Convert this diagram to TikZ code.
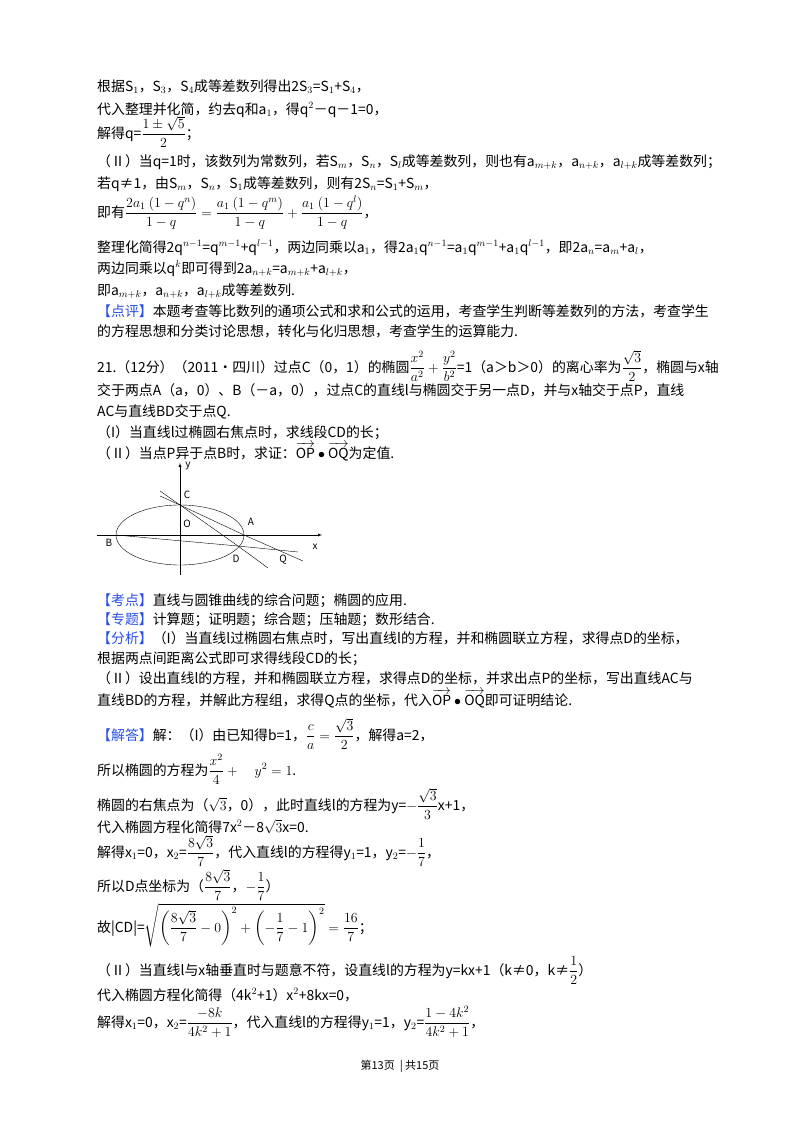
\RequirePackage{fix-cm}
\documentclass[tikz,border=0pt]{standalone}
\usepackage{fontspec}
\usepackage{amsmath}
\setmainfont{Noto Sans CJK SC}
\definecolor{kblue}{RGB}{40,80,230}
\newcommand\kd[1]{\textcolor{kblue}{【#1】}}
\newcommand\vv[1]{\overrightarrow{\mathrm{#1}}}
\begin{document}
\begin{tikzpicture}[x=1pt,y=-1pt,
  ln/.style={anchor=base west,inner sep=0pt,font=\fontsize{13.9}{15}\selectfont},
  lab/.style={inner sep=0pt,font=\fontsize{10}{12}\selectfont\itshape}]
\useasboundingbox[fill=white] (0,0) rectangle (800,1132);
\node[ln] (l1) at (97,91) {根据S$_1$，S$_3$，S$_4$成等差数列得出2S$_3$=S$_1$+S$_4$，};
\node[ln] (l2) at (97,114) {代入整理并化简，约去q和a$_1$，得q$^2$－q－1=0，};
\node[ln] (l3) at (97,138) {解得q=$\dfrac{1\pm\sqrt5}{2}$；};
\node[ln] (l4) at (97,166) {（Ⅱ）当q=1时，该数列为常数列，若S$_m$，S$_n$，S$_l$成等差数列，则也有a$_{m+k}$，a$_{n+k}$，a$_{l+k}$成等差数列；};
\node[ln] (l5) at (97,188) {若q≠1，由S$_m$，S$_n$，S$_1$成等差数列，则有2S$_n$=S$_1$+S$_m$，};
\node[ln] (l6) at (97,217) {即有$\dfrac{2a_1\ (1-q^n)}{1-q}=\dfrac{a_1\ (1-q^m)}{1-q}+\dfrac{a_1\ (1-q^l)}{1-q}$，};
\node[ln] (l7) at (97,252) {整理化简得2q$^{n-1}$=q$^{m-1}$+q$^{l-1}$，两边同乘以a$_1$，得2a$_1$q$^{n-1}$=a$_1$q$^{m-1}$+a$_1$q$^{l-1}$，即2a$_n$=a$_m$+a$_l$，};
\node[ln] (l8) at (97,273) {两边同乘以q$^k$即可得到2a$_{n+k}$=a$_{m+k}$+a$_{l+k}$，};
\node[ln] (l9) at (97,295) {即a$_{m+k}$，a$_{n+k}$，a$_{l+k}$成等差数列.};
\node[ln] (l10) at (97,316) {\kd{点评}本题考查等比数列的通项公式和求和公式的运用，考查学生判断等差数列的方法，考查学生};
\node[ln] (l11) at (97,336) {的方程思想和分类讨论思想，转化与化归思想，考查学生的运算能力.};
\node[ln] (l12) at (97,372) {21.（12分）（2011•四川）过点C（0，1）的椭圆$\dfrac{x^2}{a^2}+\dfrac{y^2}{b^2}$=1（a＞b＞0）的离心率为$\dfrac{\sqrt3}{2}$，椭圆与x轴};
\node[ln] (l13) at (97,395) {交于两点A（a，0）、B（－a，0），过点C的直线l与椭圆交于另一点D，并与x轴交于点P，直线};
\node[ln] (l14) at (97,416) {AC与直线BD交于点Q.};
\node[ln] (l15) at (97,437) {（I）当直线l过椭圆右焦点时，求线段CD的长；};
\node[ln] (l16) at (97,458) {（Ⅱ）当点P异于点B时，求证：$\vv{OP}\bullet\vv{OQ}$为定值.};
% diagram
\coordinate (O) at (180,535);
\coordinate (A) at (244,535);
\coordinate (B) at (116,535);
\coordinate (C) at (180,505);
\coordinate (D) at (238,546);
\draw[-latex] (97,535) -- (322,535) coordinate (xe);
\draw[-latex] (180,575) -- (180,463) coordinate (ye);
\draw (O) ellipse [x radius=64, y radius=30];
\draw (160,496) -- (C) -- (A) -- (303,561) coordinate (ACe);
\draw (160,491) -- (C) -- (D) -- (268,568) coordinate (CDe);
\draw (B) -- (D) -- (298,552) coordinate (BDe);
\node[lab] (ly) at (188,466) {y};
\node[lab] (lx) at (315,547) {x};
\node[lab] (lC) at (187,495) {C};
\node[lab] (lO) at (187,524) {O};
\node[lab] (lA) at (251,522) {A};
\node[lab] (lB) at (109,543) {B};
\node[lab] (lD) at (236,559) {D};
\node[lab] (lQ) at (283,560) {Q};
%
\node[ln] (l17) at (97,605) {\kd{考点}直线与圆锥曲线的综合问题；椭圆的应用.};
\node[ln] (l18) at (97,624) {\kd{专题}计算题；证明题；综合题；压轴题；数形结合.};
\node[ln] (l19) at (97,643) {\kd{分析}（I）当直线l过椭圆右焦点时，写出直线l的方程，并和椭圆联立方程，求得点D的坐标，};
\node[ln] (l20) at (97,663) {根据两点间距离公式即可求得线段CD的长；};
\node[ln] (l21) at (97,683) {（Ⅱ）设出直线l的方程，并和椭圆联立方程，求得点D的坐标，并求出点P的坐标，写出直线AC与};
\node[ln] (l22) at (97,705) {直线BD的方程，并解此方程组，求得Q点的坐标，代入$\vv{OP}\bullet\vv{OQ}$即可证明结论.};
\node[ln] (l23) at (97,740) {\kd{解答}解：（I）由已知得b=1，$\dfrac{c}{a}=\dfrac{\sqrt3}{2}$，解得a=2，};
\node[ln] (l24) at (97,775) {所以椭圆的方程为$\dfrac{x^2}{4}+\quad y^2=1$.};
\node[ln] (l25) at (97,810) {椭圆的右焦点为（$\sqrt3$，0），此时直线l的方程为y=$-\dfrac{\sqrt3}{3}$x+1，};
\node[ln] (l26) at (97,832) {代入椭圆方程化简得7x$^2$－8$\sqrt3$x=0.};
\node[ln] (l27) at (97,857) {解得x$_1$=0，x$_2$=$\dfrac{8\sqrt3}{7}$，代入直线l的方程得y$_1$=1，y$_2$=$-\dfrac17$，};
\node[ln] (l28) at (97,891) {所以D点坐标为（$\dfrac{8\sqrt3}{7}$，$-\dfrac17$）};
\node[ln] (l29) at (97,932) {故|CD|=$\sqrt{\left(\dfrac{8\sqrt3}{7}-0\right)^2+\left(-\dfrac17-1\right)^2}=\dfrac{16}{7}$；};
\node[ln] (l30) at (97,975) {（Ⅱ）当直线l与x轴垂直时与题意不符，设直线l的方程为y=kx+1（k≠0，k≠$\dfrac12$）};
\node[ln] (l31) at (97,1000) {代入椭圆方程化简得（4k$^2$+1）x$^2$+8kx=0，};
\node[ln] (l32) at (97,1027) {解得x$_1$=0，x$_2$=$\dfrac{-8k}{4k^2+1}$，代入直线l的方程得y$_1$=1，y$_2$=$\dfrac{1-4k^2}{4k^2+1}$，};
\node[inner sep=0pt,font=\fontsize{11}{13}\selectfont] (ft) at (400,1066) {第13页 \ | 共15页};
\end{tikzpicture}
\end{document}
